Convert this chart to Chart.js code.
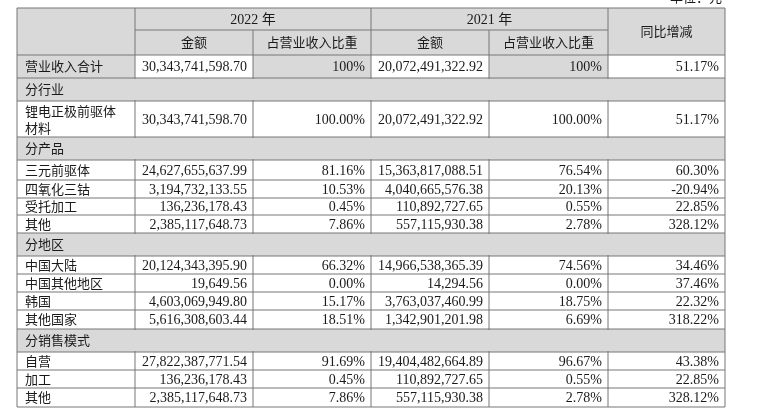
<!DOCTYPE html>
<html><head><meta charset="utf-8">
<script src="https://cdn.jsdelivr.net/npm/chart.js@4.4.1/dist/chart.umd.min.js"></script>
<style>html,body{margin:0;padding:0;background:#fff}#wrap{width:758px;height:418px}</style>
</head><body><div id="wrap"><canvas id="c"></canvas></div>
<script>
const yearLabels = ["2022 年", "2021 年"];
const subHeaders = ["金额", "占营业收入比重"];
const rowLabels = ["营业收入合计", "分行业", "锂电正极前驱体|材料", "分产品", "三元前驱体", "四氧化三钴", "受托加工", "其他", "分地区", "中国大陆", "中国其他地区", "韩国", "其他国家", "分销售模式", "自营", "加工", "其他"];
const amount2022 = ["30,343,741,598.70", null, "30,343,741,598.70", null, "24,627,655,637.99", "3,194,732,133.55", "136,236,178.43", "2,385,117,648.73", null, "20,124,343,395.90", "19,649.56", "4,603,069,949.80", "5,616,308,603.44", null, "27,822,387,771.54", "136,236,178.43", "2,385,117,648.73"];
const share2022 = ["100%", null, "100.00%", null, "81.16%", "10.53%", "0.45%", "7.86%", null, "66.32%", "0.00%", "15.17%", "18.51%", null, "91.69%", "0.45%", "7.86%"];
const amount2021 = ["20,072,491,322.92", null, "20,072,491,322.92", null, "15,363,817,088.51", "4,040,665,576.38", "110,892,727.65", "557,115,930.38", null, "14,966,538,365.39", "14,294.56", "3,763,037,460.99", "1,342,901,201.98", null, "19,404,482,664.89", "110,892,727.65", "557,115,930.38"];
const share2021 = ["100%", null, "100.00%", null, "76.54%", "20.13%", "0.55%", "2.78%", null, "74.56%", "0.00%", "18.75%", "6.69%", null, "96.67%", "0.55%", "2.78%"];
const yoyChange = ["51.17%", null, "51.17%", null, "60.30%", "-20.94%", "22.85%", "328.12%", null, "34.46%", "37.46%", "22.32%", "318.22%", null, "43.38%", "22.85%", "328.12%"];

// layout (px in a 758x418 frame)
const colEdges = [17, 135, 253, 371, 489, 608, 725];
const rowEdges = [55, 78, 101, 137, 160, 180, 198, 215, 233, 256, 274, 292, 310, 329, 352, 370, 388, 407];
const headTop = 8, headMid = 30;
const gray = "#d9d9d9";
const numFont = '14px "Liberation Serif", serif';
const cjkFont = '13px "Noto Sans CJK SC", sans-serif';

const tablePlugin = {
  id: "table",
  afterDraw(chart) {
    const ctx = chart.ctx, sx = chart.scales.x, sy = chart.scales.y;
    const X = v => sx.getPixelForValue(v), Y = v => sy.getPixelForValue(v);
    const L = X(colEdges[0]), R = X(colEdges[6]);
    const bottom = Y(rowEdges[rowEdges.length - 1]);
    ctx.save();
    ctx.fillStyle = gray;
    ctx.fillRect(L, Y(headTop), R - L, Y(rowEdges[0]) - Y(headTop));
    rowLabels.forEach((lab, i) => {
      const t = Y(rowEdges[i]), b = Y(rowEdges[i + 1]);
      if (amount2022[i] === null) ctx.fillRect(L, t, R - L, b - t);
      else if (i === 0) [0, 2, 4].forEach(c => ctx.fillRect(X(colEdges[c]), t, X(colEdges[c + 1]) - X(colEdges[c]), b - t));
    });
    ctx.strokeStyle = "#777"; ctx.lineWidth = 1;
    const line = (x1, y1, x2, y2) => { ctx.beginPath(); ctx.moveTo(x1, y1); ctx.lineTo(x2, y2); ctx.stroke(); };
    line(L, Y(headTop), R, Y(headTop));
    line(X(colEdges[1]), Y(headMid), X(colEdges[5]), Y(headMid));
    rowEdges.forEach(e => line(L, Y(e), R, Y(e)));
    line(L, Y(headTop), L, bottom);
    line(R, Y(headTop), R, bottom);
    [1, 3, 5].forEach(c => line(X(colEdges[c]), Y(headTop), X(colEdges[c]), bottom));
    [2, 4].forEach(c => line(X(colEdges[c]), Y(headMid), X(colEdges[c]), bottom));
    // section rows span the full width
    rowLabels.forEach((lab, i) => {
      if (amount2022[i] !== null) return;
      ctx.fillStyle = gray;
      ctx.fillRect(L + 1, Y(rowEdges[i]) + 1, R - L - 2, Y(rowEdges[i + 1]) - Y(rowEdges[i]) - 2);
    });

    ctx.fillStyle = "#1a1a1a"; ctx.textBaseline = "middle";
    const cx = c => (X(colEdges[c]) + X(colEdges[c + 1])) / 2;
    ctx.textAlign = "center";
    ctx.font = '14px "Liberation Serif", "Noto Sans CJK SC", serif';
    ctx.fillText(yearLabels[0], (X(colEdges[1]) + X(colEdges[3])) / 2, (Y(headTop) + Y(headMid)) / 2 + 1);
    ctx.fillText(yearLabels[1], (X(colEdges[3]) + X(colEdges[5])) / 2, (Y(headTop) + Y(headMid)) / 2 + 1);
    ctx.font = cjkFont;
    [1, 2, 3, 4].forEach((c, k) => ctx.fillText(subHeaders[k % 2], cx(c), (Y(headMid) + Y(rowEdges[0])) / 2));
    ctx.fillText("同比增减", cx(5), (Y(headTop) + Y(rowEdges[0])) / 2);
    ctx.textAlign = "right";
    ctx.fillText("单位：元", X(722), Y(-3));

    const cols = [amount2022, share2022, amount2021, share2021, yoyChange];
    rowLabels.forEach((lab, i) => {
      const t = Y(rowEdges[i]), b = Y(rowEdges[i + 1]), m = (t + b) / 2;
      ctx.textAlign = "left";
      ctx.font = cjkFont;
      const parts = lab.split("|");
      if (parts.length > 1) {
        ctx.fillText(parts[0], X(25), m - 8);
        ctx.fillText(parts[1], X(25), m + 9);
      } else ctx.fillText(lab, X(25), m);
      ctx.textAlign = "right";
      ctx.font = numFont;
      cols.forEach((arr, c) => { if (arr[i] !== null) ctx.fillText(arr[i], X(colEdges[c + 2]) - 6, m + 1); });
    });
    ctx.restore();
  }
};

new Chart(document.getElementById("c"), {
  type: "scatter",
  data: { datasets: [] },
  options: {
    animation: false, responsive: true, maintainAspectRatio: false,
    layout: { padding: 0 },
    plugins: { legend: { display: false }, tooltip: { enabled: false } },
    scales: {
      x: { type: "linear", min: 0, max: 758, display: false },
      y: { type: "linear", min: 0, max: 418, reverse: true, display: false }
    }
  },
  plugins: [tablePlugin]
});
</script></body></html>
